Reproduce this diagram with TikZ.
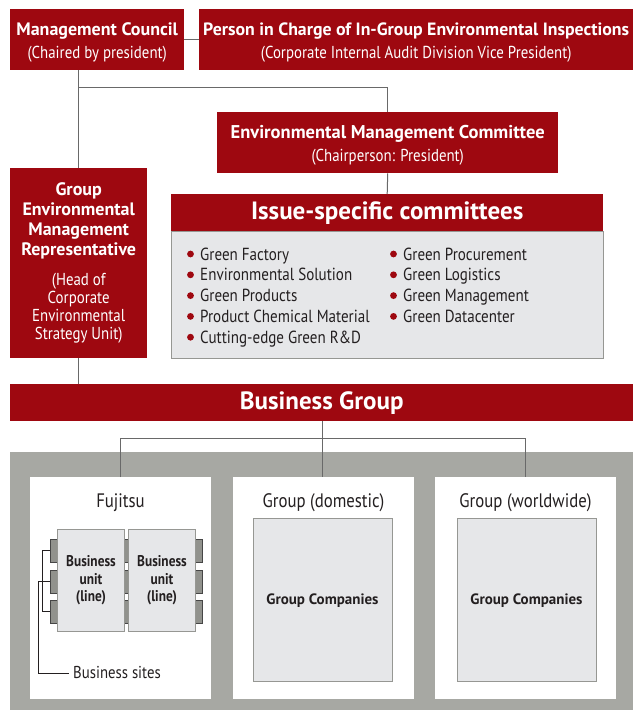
\documentclass[tikz,border=0pt]{standalone}
\usepackage{fontspec}
\setmainfont{PT Sans}[FakeStretch=0.86,BoldFeatures={FakeStretch=1.0}]
\newfontfamily\narrowfont{PT Sans}[FakeStretch=0.86]
\usetikzlibrary{calc}
\definecolor{fjred}{RGB}{158,8,16}
\definecolor{bggrey}{RGB}{167,168,163}
\definecolor{boxgrey}{RGB}{230,231,233}
\definecolor{edgegrey}{RGB}{150,151,147}
\definecolor{tabgrey}{RGB}{145,146,141}
\definecolor{tabedge}{RGB}{70,70,70}
\definecolor{linegrey}{RGB}{105,105,105}
\definecolor{ink}{RGB}{35,31,32}
\newcommand\fsz[2]{\fontsize{#1}{#2}\selectfont}
\newcommand\topstrut{\rule{0pt}{18pt}}
\begin{document}
\begin{tikzpicture}[x=1pt,y=-1pt,
  redbox/.style={fill=fjred,text=white,inner sep=0pt,anchor=north west,align=center},
  whitebox/.style={fill=white,inner sep=0pt,anchor=north west,minimum width=181,minimum height=222},
  innerbox/.style={fill=boxgrey,draw=edgegrey,line width=1pt,inner sep=0pt,text=ink,align=center,font=\fsz{15}{17.5}\bfseries},
  unitbox/.style={fill=boxgrey,draw=edgegrey,line width=1pt,inner sep=0pt,anchor=north west,minimum width=67,minimum height=102,text=ink,align=center,font=\narrowfont\fsz{15.5}{17.5}\bfseries},
  tabbox/.style={fill=tabgrey,draw=tabedge,line width=0.8pt,inner sep=0pt,anchor=north west,minimum height=23},
  conn/.style={draw=linegrey,line width=1pt},
  blk/.style={draw=ink,line width=0.9pt},
  lbl/.style={text=ink,inner sep=0pt,font=\fsz{19.5}{22}},
  item/.style={text=ink,inner sep=0pt,anchor=base west,font=\fsz{17.5}{20}},
  ttl/.style={font=\fsz{17.3}{23}},
]
\useasboundingbox (0,0) rectangle (633,710);

% top row
\node[redbox,ttl,minimum width=174,minimum height=61] (mc) at (10,9)
  {{\topstrut\fsz{18}{23}\bfseries Management Council}\\(Chaired by president)};
\node[redbox,ttl,minimum width=434,minimum height=61] (pic) at (199,9)
  {{\topstrut\fsz{17.8}{23}\bfseries Person in Charge of In-Group Environmental Inspections}\\(Corporate Internal Audit Division Vice President)};
\node[redbox,ttl,minimum width=341,minimum height=61] (emc) at (217,112)
  {{\topstrut\fsz{18.5}{23}\bfseries Environmental Management Committee}\\(Chairperson: President)};

% representative
\node[redbox,minimum width=137,minimum height=190,font=\fsz{17.3}{20}] (gemr) at (10,168)
  {{\fsz{18}{20}\bfseries Group}\\{\fsz{18}{20}\bfseries Environmental}\\{\fsz{18}{20}\bfseries Management}\\{\fsz{18}{20}\bfseries Representative}\\[10pt]%
   (Head of\\[-2pt]Corporate\\[-1.5pt]Environmental\\[-2pt]Strategy Unit)};

% issue-specific committees
\node[fill=boxgrey,draw=edgegrey,line width=1.2pt,inner sep=0pt,anchor=north west,minimum width=432,minimum height=127] (isb) at (171,231) {};
\node[redbox,minimum width=432,minimum height=37,font=\fsz{25}{28}\bfseries] (ish) at (171,194) {Issue-specific committees};

\node[item] (i1) at (200,260) {Green Factory};
\node[item] (i2) at (200,280.8) {Environmental Solution};
\node[item] (i3) at (200,301.6) {Green Products};
\node[item] (i4) at (200,322.4) {Product Chemical Material};
\node[item] (i5) at (200,343.2) {Cutting-edge Green R\&D};
\node[item] (i6) at (403,260) {Green Procurement};
\node[item] (i7) at (403,280.8) {Green Logistics};
\node[item] (i8) at (403,301.6) {Green Management};
\node[item] (i9) at (403,322.4) {Green Datacenter};
\foreach \n in {1,...,9}{
  \fill[fjred] ([xshift=-9.5pt,yshift=6pt]i\n.base west) circle (3.4pt);
}

% business group
\node[redbox,minimum width=623,minimum height=37,font=\fsz{25}{28}\bfseries] (bg) at (10,384) {Business Group};

% lower area
\fill[bggrey] (10,452) rectangle (633,710);
\node[whitebox] (fuj) at (30,477) {};
\node[whitebox] (dom) at (233,477) {};
\node[whitebox] (ww) at (435,477) {};
\node[lbl] (fujl) at (120.5,503) {Fujitsu};
\node[lbl] (doml) at (323.5,503) {Group (domestic)};
\node[lbl] (wwl) at (525.5,503) {Group (worldwide)};
\node[innerbox,minimum width=139,minimum height=163,text depth=1pt] (domc) at (322.5,599.5) {Group Companies};
\node[innerbox,minimum width=139,minimum height=163,text depth=1pt] (wwc) at (526.5,599.5) {Group Companies};

% business units with tabs
\foreach \k/\yy in {1/539,2/569.5,3/600}{
  \node[tabbox,minimum width=7] (tl\k) at (50,\yy) {};
  \node[tabbox,minimum width=4] (tm\k) at (124,\yy) {};
  \node[tabbox,minimum width=7] (tr\k) at (195,\yy) {};
}
\node[unitbox] (bu1) at (57,529) {Business\\unit\\(line)};
\node[unitbox] (bu2) at (128,529) {Business\\unit\\(line)};
\node[text=ink,inner sep=4pt,anchor=west,font=\fsz{17.2}{19}] (bs) at (69,673) {Business sites};
\draw[blk] (tl1.west) -- ++(-8,0) |- (tl3.west);
\draw[blk] (tl2.west) -- ++(-12,0) |- (bs.west);

% connectors
\coordinate (j1) at (78.5,87);
\coordinate (j2) at (322,438);
\draw[conn] (mc.east) -- (pic.west);
\draw[conn] (mc.south -| gemr.north) -- (gemr.north);
\draw[conn] (j1) -| (emc.north);
\draw[conn] (emc.south) -- (ish.north);
\draw[conn] (gemr.south) -- (gemr.south |- bg.north);
\draw[conn] (bg.south -| j2) -- (j2 |- dom.north);
\draw[conn] (fuj.north) -- (fuj.north |- j2) -| (ww.north);
\end{tikzpicture}
\end{document}
